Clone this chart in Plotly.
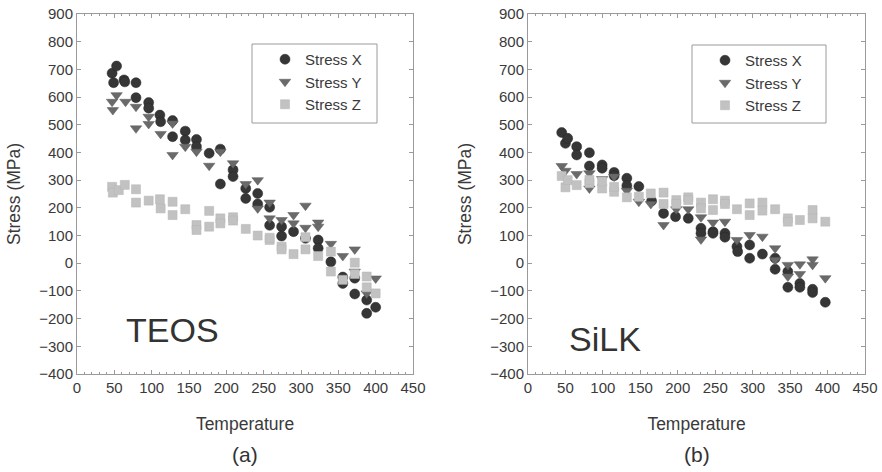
import plotly.graph_objects as go

# ---- TEOS film: stress components vs temperature ----
teos_x_t = [47, 53, 49, 63, 64, 79, 79, 96, 96, 111, 112, 128, 128, 145, 145, 160, 160, 177,
            192, 192, 209, 209, 226, 226, 242, 242, 258, 258, 274, 274, 290, 306, 323, 323,
            340, 356, 356, 372, 372, 388, 388, 400]
teos_x_s = [686, 712, 652, 662, 655, 652, 598, 580, 560, 535, 511, 515, 457, 477, 445, 447, 421, 397,
            412, 286, 337, 313, 270, 234, 252, 214, 202, 137, 132, 98, 114, 90, 84, 54,
            5, -73, -50, -54, -111, -133, -181, -159]

teos_y_t = [47, 48, 53, 65, 79, 79, 96, 96, 112, 128, 128, 145, 160, 177, 192, 209, 226, 242,
            242, 258, 258, 274, 290, 290, 306, 306, 323, 323, 340, 356, 372, 372, 388, 400]
teos_y_s = [583, 553, 607, 583, 565, 487, 529, 503, 467, 505, 391, 421, 403, 352, 403, 361, 286, 300,
            198, 219, 162, 156, 174, 144, 208, 128, 147, 132, 70, 26, 50, -30, -109, -55]

teos_z_t = [47, 48, 56, 64, 79, 79, 96, 111, 112, 128, 128, 145, 160, 160, 177, 177, 192, 192,
            209, 209, 226, 242, 258, 258, 274, 274, 290, 306, 306, 323, 340, 340, 356, 372,
            372, 388, 388, 400]
teos_z_s = [276, 255, 264, 283, 267, 219, 226, 231, 198, 222, 174, 195, 138, 120, 189, 132, 162, 144,
            166, 154, 124, 100, 84, 92, 60, 50, 33, 50, 94, 26, 42, -30, -60, 2,
            -39, -48, -87, -109]

# ---- SiLK film: stress components vs temperature ----
silk_x_t = [45, 50, 53, 65, 65, 82, 82, 99, 99, 115, 115, 132, 132, 148, 165, 181, 197, 214,
            231, 231, 247, 247, 263, 263, 279, 280, 296, 296, 313, 330, 330, 347, 347, 363,
            363, 380, 380, 397]
silk_x_s = [472, 433, 451, 421, 391, 399, 351, 355, 343, 328, 316, 307, 280, 277, 225, 180, 168, 162,
            126, 108, 114, 108, 108, 94, 60, 42, 66, 18, 33, 18, -22, -30, -87, -73,
            -87, -94, -106, -141]

silk_y_t = [45, 50, 65, 82, 82, 99, 115, 132, 148, 164, 181, 198, 214, 231, 231, 247, 263, 279,
            296, 313, 330, 330, 347, 347, 363, 363, 380, 380, 397]
silk_y_s = [351, 334, 322, 325, 270, 304, 313, 262, 222, 214, 138, 195, 195, 166, 86, 147, 150, 84,
            102, 96, 54, 12, -6, -48, -4, -39, 14, -6, -54]

silk_z_t = [45, 50, 53, 65, 82, 82, 99, 99, 115, 115, 132, 148, 164, 181, 181, 198, 198, 214,
            214, 231, 231, 247, 247, 263, 263, 279, 296, 296, 313, 313, 330, 347, 347, 363,
            380, 380, 397]
silk_z_s = [315, 274, 300, 282, 289, 301, 270, 295, 258, 276, 238, 240, 252, 255, 214, 228, 214, 238,
            228, 219, 198, 231, 192, 226, 214, 195, 216, 174, 219, 190, 195, 162, 150, 156,
            192, 162, 150]

series_names = ["Stress X", "Stress Y", "Stress Z"]
panel_names = ["TEOS", "SiLK"]
panel_tags = ["(a)", "(b)"]

FONT = "Arial, Liberation Sans, sans-serif"
TXT = "#3a3a3a"
styles = [
    dict(symbol="circle", size=10, color="#363636", line=dict(color="#262626", width=0.5)),
    dict(symbol="triangle-down", size=10, color="#6a6a6a", line=dict(color="#5a5a5a", width=0.5)),
    dict(symbol="square", size=9, color="#c2c2c2", line=dict(color="#b5b5b5", width=0.5)),
]

W, H = 882, 472
x_dom = [[77 / W, 413 / W], [528 / W, 865 / W]]
y_dom = [(H - 374) / H, (H - 14) / H]

fig = go.Figure()

panels = [
    [(teos_x_t, teos_x_s), (teos_y_t, teos_y_s), (teos_z_t, teos_z_s)],
    [(silk_x_t, silk_x_s), (silk_y_t, silk_y_s), (silk_z_t, silk_z_s)],
]

for p, data in enumerate(panels):
    xa = "x" if p == 0 else "x2"
    ya = "y" if p == 0 else "y2"
    leg = "legend" if p == 0 else "legend2"
    for (t, s), name, st in zip(data, series_names, styles):
        fig.add_trace(go.Scatter(
            x=t, y=s, mode="markers", name=name, marker=st,
            xaxis=xa, yaxis=ya, legend=leg, showlegend=True,
        ))

axis_common = dict(
    showline=True, linecolor="#9a9a9a", linewidth=1, mirror="ticks",
    ticks="inside", ticklen=4, tickcolor="#9a9a9a", showgrid=False, zeroline=False,
    automargin=False,
    tickfont=dict(family=FONT, size=15, color=TXT),
)

layout = dict(
    width=W, height=H, margin=dict(l=0, r=0, t=0, b=0, autoexpand=False),
    paper_bgcolor="white", plot_bgcolor="white",
    font=dict(family=FONT, color=TXT),
    showlegend=True,
)

for p in range(2):
    sx = "" if p == 0 else "2"
    layout["xaxis" + sx] = dict(
        axis_common, domain=x_dom[p], range=[0, 450], dtick=50, anchor="y" + sx,
        minor=dict(dtick=10, ticks="inside", ticklen=2, tickcolor="#9a9a9a"),
        title=dict(text="Temperature", font=dict(family=FONT, size=17.5, color=TXT), standoff=22),
    )
    layout["yaxis" + sx] = dict(
        axis_common, domain=y_dom, range=[-400, 900], dtick=100, anchor="x" + sx,
        title=dict(text="Stress (MPa)", font=dict(family=FONT, size=17.5, color=TXT), standoff=14),
    )

legend_box = [(252, 44, 377, 123), (692, 45, 826, 123)]
for p, (x0, y0, x1, y1) in enumerate(legend_box):
    key = "legend" if p == 0 else "legend2"
    layout[key] = dict(
        x=(x0 + 13) / W, y=1 - (y0 - 1) / H, xanchor="left", yanchor="top",
        bgcolor="rgba(0,0,0,0)", borderwidth=0,
        font=dict(family=FONT, size=15, color=TXT), tracegroupgap=0,
    )

fig.update_layout(**layout)

# legend frames
for x0, y0, x1, y1 in legend_box:
    fig.add_shape(type="rect", xref="paper", yref="paper",
                  x0=x0 / W, x1=x1 / W, y0=1 - y1 / H, y1=1 - y0 / H,
                  line=dict(color="#9a9a9a", width=1), fillcolor="rgba(0,0,0,0)", layer="below")

# panel labels inside plots and captions below
label_pos = [(172, 330), (605, 339)]
for p in range(2):
    fig.add_annotation(text=panel_names[p], xref="paper", yref="paper",
                       x=label_pos[p][0] / W, y=1 - label_pos[p][1] / H,
                       xanchor="center", yanchor="middle",
                       showarrow=False, font=dict(family=FONT, size=34, color="#333333"))
cap_x = [245, 697]
for p in range(2):
    fig.add_annotation(text=panel_tags[p], xref="paper", yref="paper",
                       x=cap_x[p] / W, y=1 - 454 / H, xanchor="center", yanchor="middle",
                       showarrow=False, font=dict(family=FONT, size=21, color="#333333"))

fig.write_html("out.html")
